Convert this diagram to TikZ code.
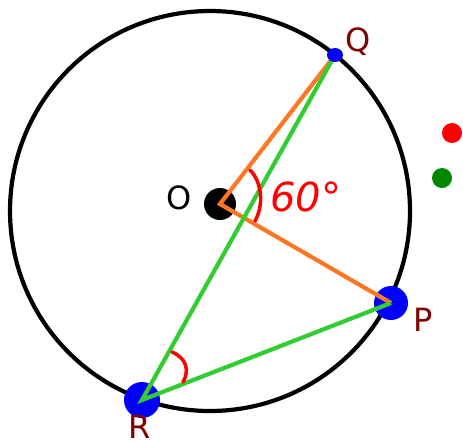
\documentclass[tikz,border=0pt]{standalone}
\usepackage{fontspec}
\setmainfont{DejaVu Sans}
\begin{document}
\begin{tikzpicture}[x=1pt,y=-1pt,
  seg/.style={line width=4.2pt},
  lbl/.style={text=red!50!black, font=\fontsize{32}{34}\selectfont, inner sep=0pt},
  anglemark/.style={red, line width=3.5pt, line cap=round}]
\useasboundingbox (0,0) rectangle (463,440);
\definecolor{orng}{HTML}{FF7722}
\definecolor{grn}{HTML}{33CC33}
\definecolor{dgrn}{HTML}{008800}
\coordinate (C) at (210,211);
\draw[line width=4.2pt] (C) circle[radius=200];
\coordinate (O) at (220,204);
\coordinate (Q) at (335,55);
\coordinate (P) at (391,303);
\coordinate (R) at (142,400);
\fill[black] (O) circle[radius=16];
\fill[blue] (P) circle[radius=17];
\fill[blue] (R) circle[radius=18];
\draw[seg, orng] (Q) -- (O) -- (P);
\draw[seg, grn] (Q) -- (R) -- (P);
\fill[blue] (Q) ellipse[x radius=8, y radius=7];
\node[lbl, text=black] (lo) at (179,198) {O};
\node[lbl] (lq) at (358,42) {Q};
\node[lbl] (lp) at (423,320) {P};
\node[lbl] (lr) at (140,427) {R};
\draw[anglemark] (250,170) .. controls (262,182) and (264,205) .. (255,221);
\draw[anglemark] (172,352) .. controls (186,358) and (190,370) .. (183,382);
\node[text=red, font=\itshape\fontsize{40}{42}\selectfont, inner sep=0pt] (ang) at (306,197) {60°};
\fill[red] (452,133) circle[radius=10];
\fill[dgrn] (442,178) circle[radius=10];
\end{tikzpicture}
\end{document}
